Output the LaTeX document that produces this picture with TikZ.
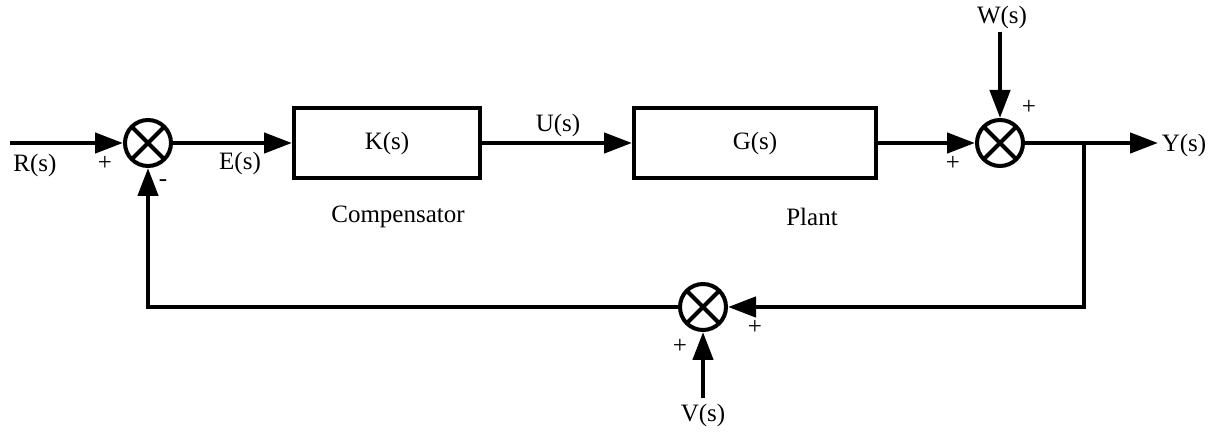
\documentclass[tikz,border=0pt]{standalone}
\usepackage{fontspec}
\setmainfont{Liberation Serif}
\usetikzlibrary{arrows.meta}
\begin{document}
\begin{tikzpicture}[x=0.5pt,y=-0.5pt,
  every node/.style={font=\fontsize{12.5}{14}\selectfont},
  blk/.style={draw,line width=2pt,minimum height=35pt,inner sep=0pt},
  sumj/.style={draw,circle,line width=2pt,minimum size=23pt,inner sep=0pt,
    path picture={\draw[line width=2pt]
      (path picture bounding box.north east) -- (path picture bounding box.south west)
      (path picture bounding box.north west) -- (path picture bounding box.south east);}},
  wire/.style={line width=2.25pt},
  arr/.style={wire,-{Triangle[length=14pt,width=10pt]}},
  lbl/.style={inner sep=0pt},
]
\useasboundingbox (0,0) rectangle (1214,432);
% nodes
\coordinate (rin) at (10,143);
\node[sumj] (s1) at (148,143) {};
\node[blk,minimum width=93pt] (K) at (387,143) {K(s)};
\node[blk,minimum width=121pt] (G) at (755,143) {G(s)};
\node[sumj] (s2) at (1000,143) {};
\coordinate (br) at (1084,143);
\coordinate (yout) at (1158,143);
\coordinate (wtop) at (1000,32);
\node[sumj] (s3) at (703,307) {};
\coordinate (vbot) at (703,398);
% connectors
\draw[arr] (rin) -- (s1);
\draw[arr] (s1) -- (K);
\draw[arr] (K) -- (G);
\draw[arr] (G) -- (s2);
\draw[wire] (s2) -- (br);
\draw[arr] (br) -- (yout);
\draw[arr] (wtop) -- (s2);
\draw[arr] (br) |- (s3);
\draw[arr] (vbot) -- (s3);
\draw[arr] (s3) -| (s1);
% labels
\node[lbl] (lR) at (35,165) {R(s)};
\node[lbl] (p1) at (105,163) {+};
\node[lbl] (m1) at (163,183) {-};
\node[lbl] (lE) at (240,163) {E(s)};
\node[lbl] (lU) at (558,125) {U(s)};
\node[lbl] (lC) at (398,217) {Compensator};
\node[lbl] (lP) at (812,217) {Plant};
\node[lbl] (lW) at (1002,17) {W(s)};
\node[lbl] (p2a) at (1029,107) {+};
\node[lbl] (p2b) at (953,163) {+};
\node[lbl] (lY) at (1184,145) {Y(s)};
\node[lbl] (p3a) at (755,327) {+};
\node[lbl] (p3b) at (680,346) {+};
\node[lbl] (lV) at (703,415) {V(s)};
\end{tikzpicture}
\end{document}
